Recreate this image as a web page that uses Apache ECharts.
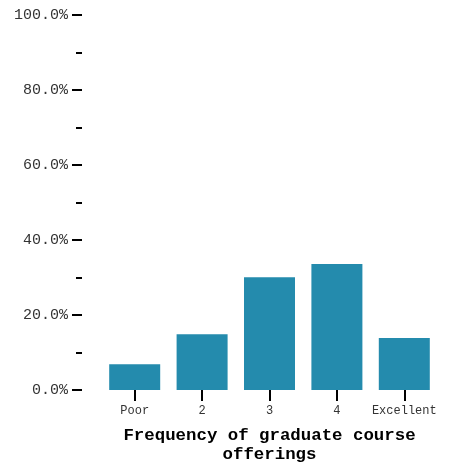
<!DOCTYPE html>
<html>
<head>
<meta charset="utf-8">
<script src="https://cdn.jsdelivr.net/npm/echarts@6/dist/echarts.min.js"></script>
<style>
html,body{margin:0;padding:0;background:#fff;}
#chart{width:451px;height:470px;}
</style>
</head>
<body>
<div id="chart"></div>
<script>
const categories = ['Poor', '2', '3', '4', 'Excellent'];
const percentages = [6.9, 14.9, 30.1, 33.6, 13.9];
const axisTitle = 'Frequency of graduate course\nofferings';

const FONT = "'Liberation Mono', 'Courier New', monospace";
const chart = echarts.init(document.getElementById('chart'), null, {renderer: 'canvas'});
chart.setOption({
  animation: false,
  grid: {left: 101, right: 13, top: 15, bottom: 80, containLabel: false},
  xAxis: {
    type: 'category',
    data: categories,
    axisLine: {show: false},
    axisTick: {show: true, alignWithLabel: true, interval: 0, length: 11, lineStyle: {color: '#000', width: 2}},
    axisLabel: {fontFamily: FONT, fontSize: 12, color: '#333', margin: 15, interval: 0},
    name: axisTitle,
    nameLocation: 'middle',
    nameGap: 36,
    nameTextStyle: {fontFamily: FONT, fontSize: 17.4, fontWeight: 'bold', color: '#000', lineHeight: 19}
  },
  yAxis: {
    type: 'value',
    min: 0, max: 100, interval: 20,
    offset: 19,
    axisLine: {show: false},
    axisTick: {show: true, length: 10, lineStyle: {color: '#000', width: 2}},
    minorTick: {show: true, splitNumber: 2, length: 6, lineStyle: {color: '#000', width: 2}},
    splitLine: {show: false},
    axisLabel: {fontFamily: FONT, fontSize: 15, color: '#333', margin: 14,
      formatter: v => v.toFixed(1) + '%'}
  },
  series: [{
    type: 'bar',
    data: percentages,
    barWidth: 51,
    itemStyle: {color: '#248bad'}
  }]
});
</script>
</body>
</html>
